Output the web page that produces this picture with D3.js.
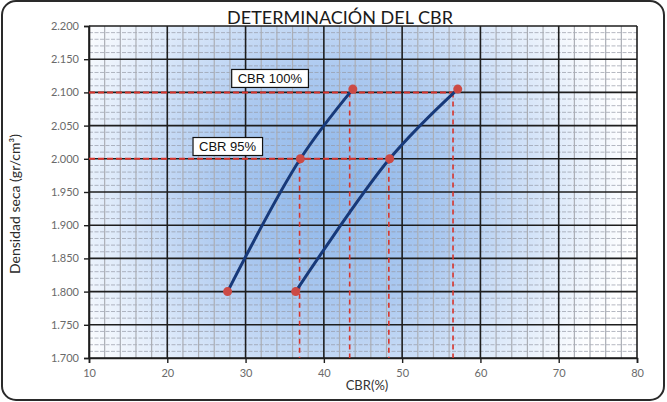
<!DOCTYPE html>
<html>
<head>
<meta charset="utf-8">
<script src="https://cdn.jsdelivr.net/npm/d3@7"></script>
<style>
  body { margin: 0; background: #fff; }
  svg { display: block; }
</style>
</head>
<body>
<div id="container"></div>
<script>
/* CONSTANTS AND GLOBALS */
const width = 667,
  height = 402,
  margin = { top: 26, bottom: 44, left: 89, right: 30 }

// curve with lower compaction energy (left) and higher (right)
const curveLeftCBR = [27.7, 37.0, 43.7]
const curveLeftDens = [1.800, 2.000, 2.105]
const curveRightCBR = [36.4, 48.4, 57.1]
const curveRightDens = [1.800, 2.000, 2.105]

// reading lines (red dashed)
const guideDens = [2.100, 2.000]
const guideEndCBR = [57.1, 48.4]
const dropCBR = [36.9, 43.3, 48.3, 56.5]
const dropDens = [2.000, 2.100, 2.000, 2.100]

// boxed labels
const boxLabels = ["CBR 100%", "CBR 95%"]
const boxCBR = [33.1, 27.7]
const boxDens = [2.121, 2.0185]

const xTicks = [10, 20, 30, 40, 50, 60, 70, 80]
const yTicks = [1.70, 1.75, 1.80, 1.85, 1.90, 1.95, 2.00, 2.05, 2.10, 2.15, 2.20]

/* SCALES */
const xScale = d3.scaleLinear()
  .domain([10, 80])
  .range([margin.left, width - margin.right])

const yScale = d3.scaleLinear()
  .domain([1.7, 2.2])
  .range([height - margin.bottom, margin.top])

/* HTML ELEMENTS */
const svg = d3.select("#container")
  .append("svg")
  .attr("width", width)
  .attr("height", height)

// outer card
svg.append("rect")
  .attr("x", 2).attr("y", 1)
  .attr("width", width - 5).attr("height", height - 3)
  .attr("rx", 14)
  .attr("fill", "#fff")
  .attr("stroke", "#2a2a2a")
  .attr("stroke-width", 2)

// plot background gradient
const defs = svg.append("defs")
const grad = defs.append("radialGradient")
  .attr("id", "bg")
  .attr("gradientUnits", "userSpaceOnUse")
  .attr("cx", 335).attr("cy", 190).attr("r", 300)
grad.append("stop").attr("offset", "0%").attr("stop-color", "#8bb5ea")
grad.append("stop").attr("offset", "40%").attr("stop-color", "#acc9f0")
grad.append("stop").attr("offset", "75%").attr("stop-color", "#deeafa")
grad.append("stop").attr("offset", "100%").attr("stop-color", "#ffffff")

const x0 = xScale(10), x1 = xScale(80), y0 = yScale(1.7), y1 = yScale(2.2)

svg.append("rect")
  .attr("x", x0).attr("y", y1)
  .attr("width", x1 - x0).attr("height", y0 - y1)
  .attr("fill", "url(#bg)")

// minor grid
svg.append("g")
  .selectAll("line")
  .data(d3.range(1.71, 2.2, 0.01).filter(v => Math.round(v * 100) % 5 !== 0))
  .join("line")
  .attr("x1", x0).attr("x2", x1)
  .attr("y1", d => yScale(d)).attr("y2", d => yScale(d))
  .attr("stroke", "#959aa6")
  .attr("stroke-width", 0.7)
  .attr("stroke-dasharray", "4,1.5")

svg.append("g")
  .selectAll("line")
  .data(d3.range(12, 80, 2).filter(v => v % 10 !== 0))
  .join("line")
  .attr("x1", d => xScale(d)).attr("x2", d => xScale(d))
  .attr("y1", y0).attr("y2", y1)
  .attr("stroke", "#abaeb5")
  .attr("stroke-width", 1.2)

// major grid
svg.append("g")
  .selectAll("line")
  .data(yTicks)
  .join("line")
  .attr("x1", x0).attr("x2", x1)
  .attr("y1", d => yScale(d)).attr("y2", d => yScale(d))
  .attr("stroke", "#1e1e1e")
  .attr("stroke-width", 1.6)

svg.append("g")
  .selectAll("line")
  .data(xTicks)
  .join("line")
  .attr("x1", d => xScale(d)).attr("x2", d => xScale(d))
  .attr("y1", y0).attr("y2", y1)
  .attr("stroke", "#1e1e1e")
  .attr("stroke-width", 1.6)

// axes
const xAxis = d3.axisBottom(xScale).tickValues(xTicks).tickSize(5).tickPadding(6)
const yAxis = d3.axisLeft(yScale).tickValues(yTicks).tickSize(5).tickPadding(5)
  .tickFormat(d3.format(".3f"))

svg.append("g")
  .attr("transform", `translate(0,${y0})`)
  .call(xAxis)
  .call(g => g.select(".domain").attr("stroke", "#1e1e1e").attr("stroke-width", 1.6))
  .call(g => g.selectAll("line").attr("stroke", "#1e1e1e").attr("stroke-width", 1.4))
  .call(g => g.selectAll("text").attr("fill", "#6a6a6a").style("font", "11px Lato"))

svg.append("g")
  .attr("transform", `translate(${x0},0)`)
  .call(yAxis)
  .call(g => g.select(".domain").attr("stroke", "#1e1e1e").attr("stroke-width", 1.6))
  .call(g => g.selectAll("line").attr("stroke", "#1e1e1e").attr("stroke-width", 1.4))
  .call(g => g.selectAll("text").attr("fill", "#6a6a6a").style("font", "11px Lato"))

// red dashed reading lines
svg.append("g")
  .selectAll("line")
  .data(guideDens)
  .join("line")
  .attr("x1", x0).attr("x2", (d, i) => xScale(guideEndCBR[i]))
  .attr("y1", d => yScale(d)).attr("y2", d => yScale(d))
  .attr("stroke", "#d8342c")
  .attr("stroke-width", 2)
  .attr("stroke-dasharray", "6,3")

svg.append("g")
  .selectAll("line")
  .data(dropCBR)
  .join("line")
  .attr("x1", d => xScale(d)).attr("x2", d => xScale(d))
  .attr("y1", (d, i) => yScale(dropDens[i])).attr("y2", y0)
  .attr("stroke", "#d8342c")
  .attr("stroke-width", 1.6)
  .attr("stroke-dasharray", "5,4")

// curves (smoothed like the spreadsheet's line)
const line = d3.line()
  .x(d => xScale(d[0]))
  .y(d => yScale(d[1]))
  .curve(d3.curveCatmullRom.alpha(0.5))

const curves = [
  d3.zip(curveLeftCBR, curveLeftDens),
  d3.zip(curveRightCBR, curveRightDens)
]

svg.append("g")
  .selectAll("path")
  .data(curves)
  .join("path")
  .attr("d", line)
  .attr("fill", "none")
  .attr("stroke", "#17397a")
  .attr("stroke-width", 3)

svg.append("g")
  .selectAll("circle")
  .data(curves.flat())
  .join("circle")
  .attr("cx", d => xScale(d[0]))
  .attr("cy", d => yScale(d[1]))
  .attr("r", 4.5)
  .attr("fill", "#cc4a45")

// boxed labels
const boxes = svg.append("g")
  .selectAll("g")
  .data(boxLabels)
  .join("g")
  .attr("transform", (d, i) => `translate(${xScale(boxCBR[i])},${yScale(boxDens[i])})`)

boxes.append("text")
  .attr("x", 0).attr("y", 0)
  .attr("text-anchor", "middle")
  .attr("dy", "0.35em")
  .style("font", "13px 'Liberation Sans'")
  .attr("fill", "#111")
  .text(d => d)
  .each(function () {
    const b = this.getBBox()
    d3.select(this.parentNode).insert("rect", "text")
      .attr("x", b.x - 6).attr("y", -9)
      .attr("width", b.width + 12).attr("height", 18)
      .attr("fill", "#fff")
      .attr("stroke", "#111")
      .attr("stroke-width", 1.2)
  })

// titles
svg.append("text")
  .attr("x", 340).attr("y", 24)
  .attr("text-anchor", "middle")
  .style("font", "18px Lato")
  .attr("fill", "#1a1a1a")
  .text("DETERMINACIÓN DEL CBR")

svg.append("text")
  .attr("x", 367).attr("y", 390)
  .attr("text-anchor", "middle")
  .style("font", "13px Lato")
  .attr("fill", "#333")
  .text("CBR(%)")

svg.append("text")
  .attr("transform", `translate(20,${(y0 + y1) / 2 + 12}) rotate(-90)`)
  .attr("text-anchor", "middle")
  .style("font", "14px Lato")
  .attr("fill", "#2a2a2a")
  .text("Densidad seca (gr/cm³)")
</script>
</body>
</html>
